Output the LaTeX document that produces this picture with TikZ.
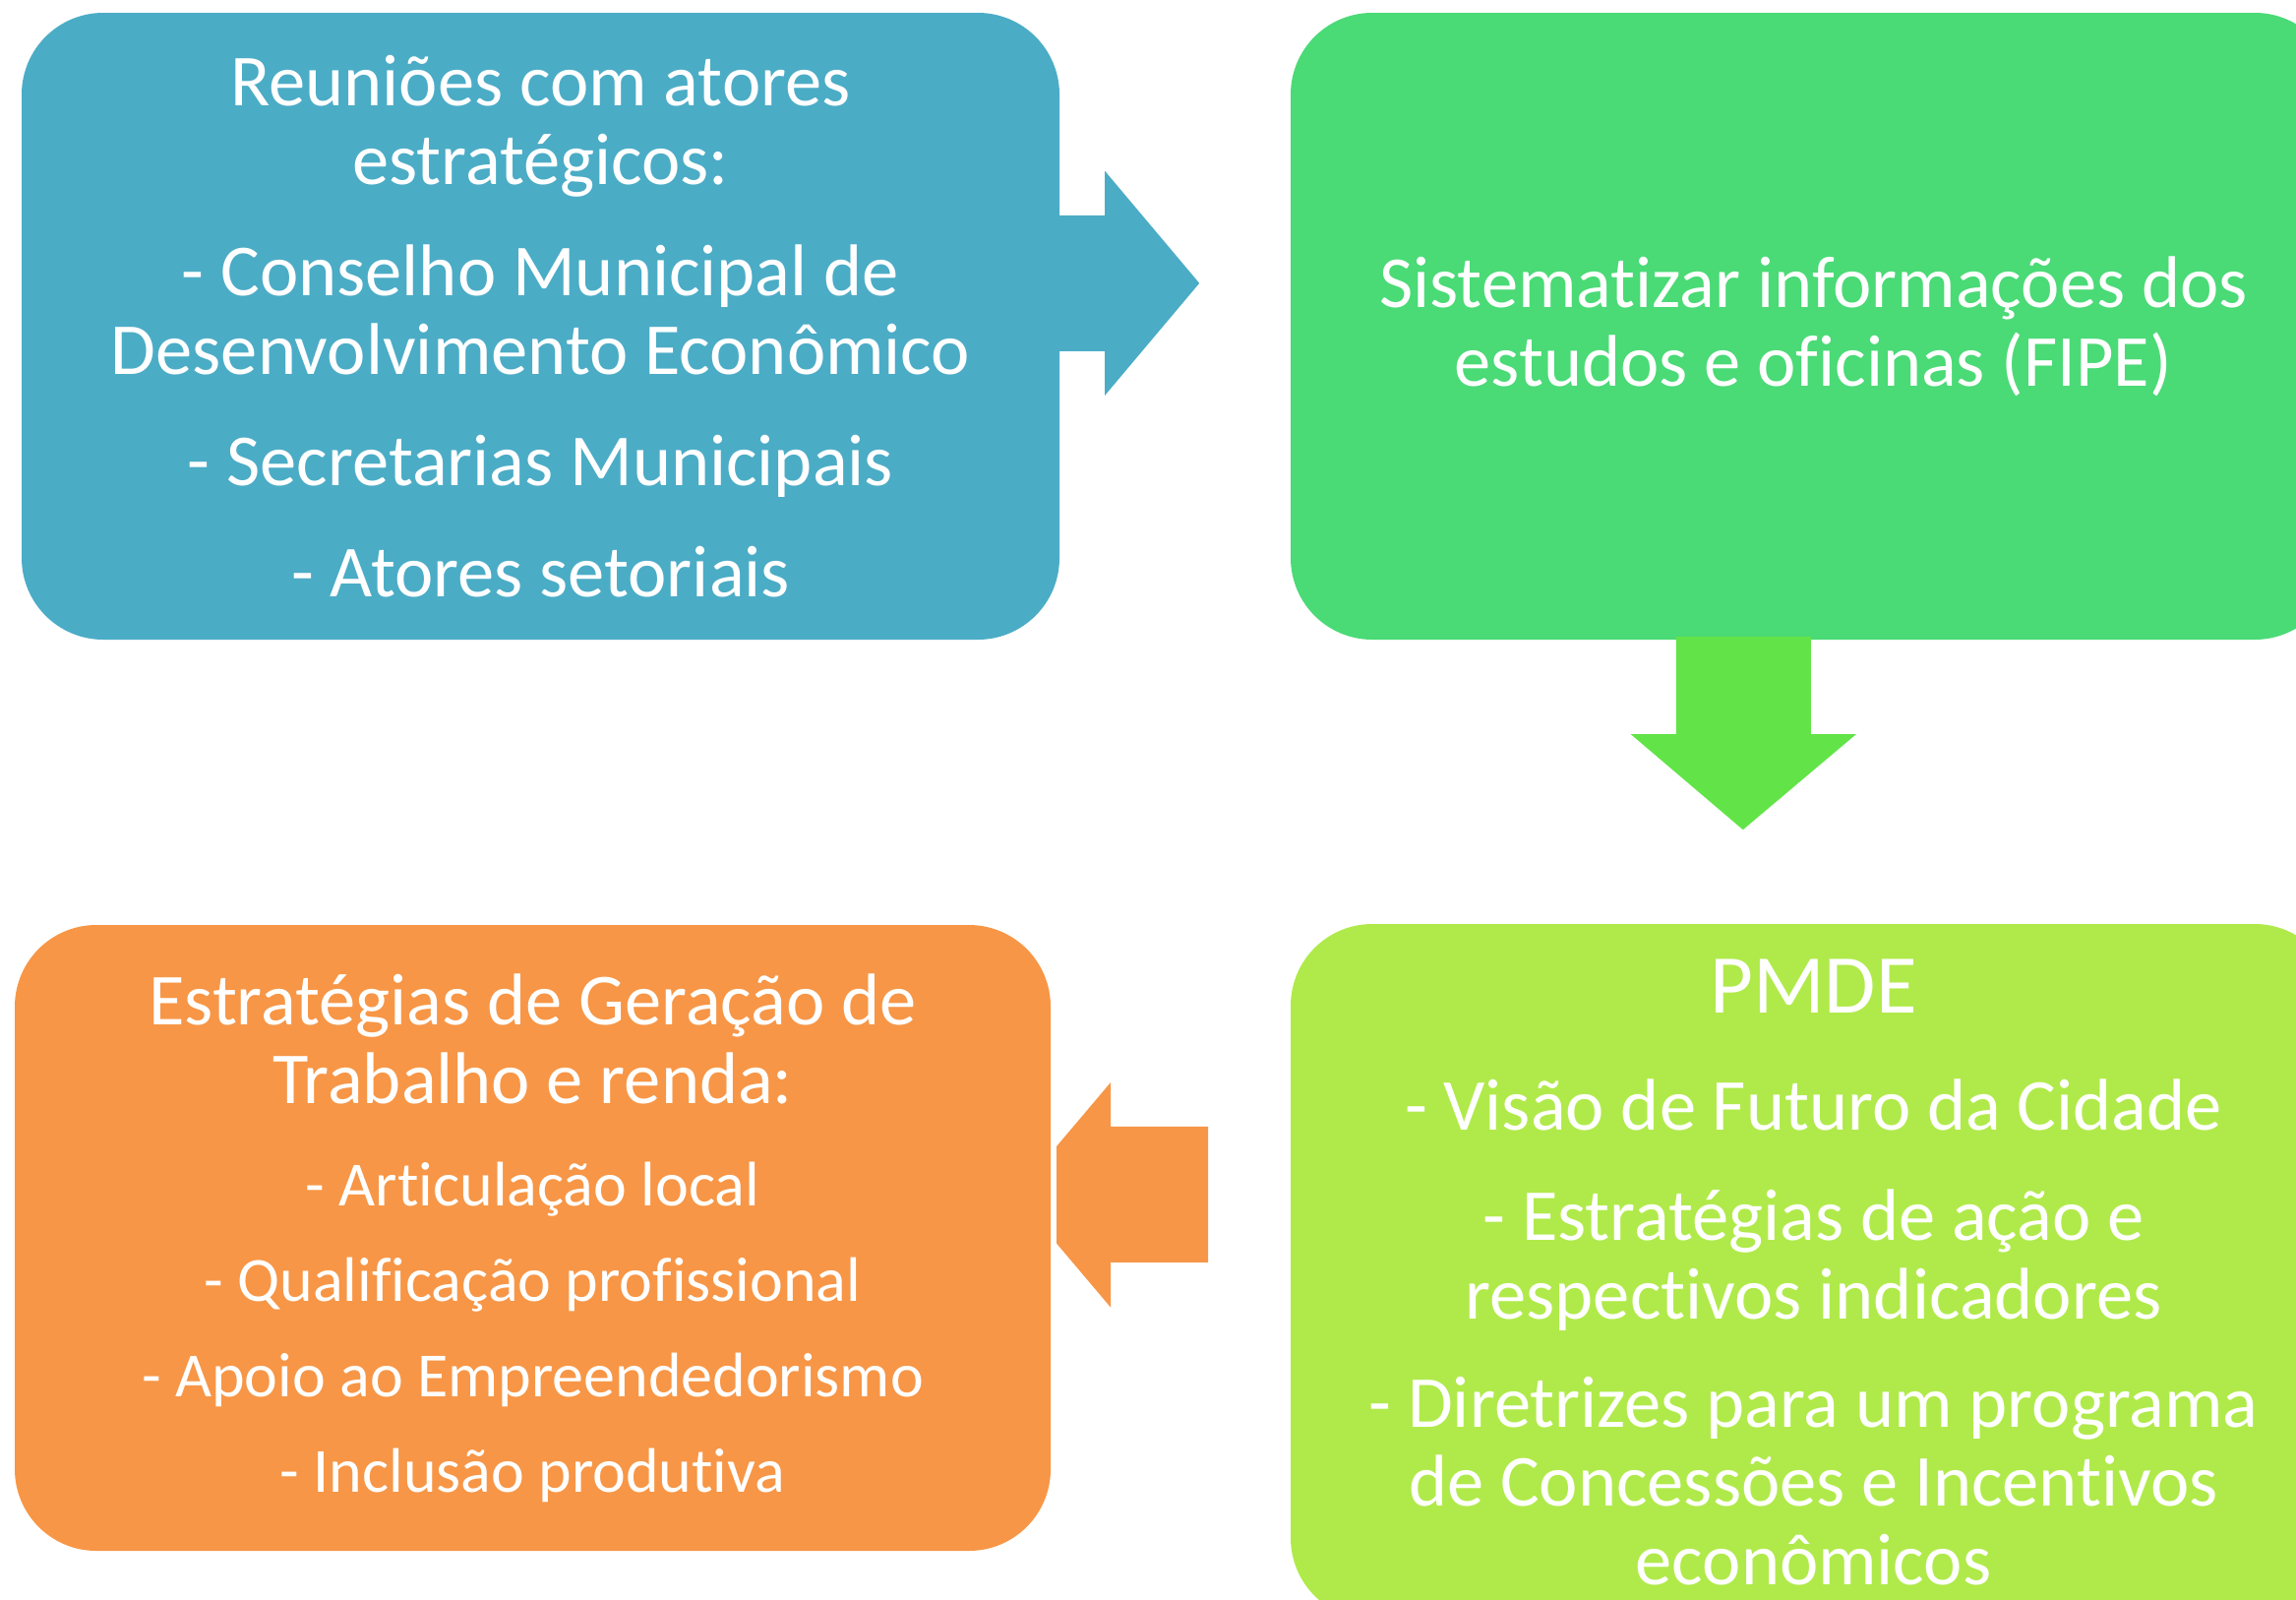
\documentclass[tikz,border=0pt]{standalone}
\usepackage{fontspec}
\setmainfont{Carlito}[Ligatures=NoCommon]
\usetikzlibrary{positioning}
\definecolor{meetblue}{HTML}{4BACC6}
\definecolor{fipegreen}{HTML}{4ADA76}
\definecolor{arrowgreen}{HTML}{62E448}
\definecolor{pmdelime}{HTML}{B0EA4A}
\definecolor{rendaorange}{HTML}{F79646}
\newcommand{\itemfont}{\fontsize{64}{80}\selectfont}
\newcommand{\titlefont}{\fontsize{85}{80}\selectfont}
\tikzset{
  box/.style={rounded corners=83pt, text=white, align=center, inner sep=0pt,
    font=\fontsize{74.5}{80}\selectfont},
}
\begin{document}
\begin{tikzpicture}[x=1pt, y=-1pt]
\path[use as bounding box, clip] (0,0) rectangle (2334,1625);
% the four boxes
\node (meet)[box, fill=meetblue, minimum width=1055pt, minimum height=637pt] at (549.5, 331.5)
  {Reuniões com atores\\estratégicos:\\[33pt]- Conselho Municipal de\\Desenvolvimento Econômico\\[33pt]- Secretarias Municipais\\[33pt]- Atores setoriais};
\node (fipe)[box, fill=fipegreen, minimum width=1063pt, minimum height=637pt] at (1843.5, 331.5)
  {Sistematizar informações dos\\estudos e oficinas (FIPE)};
\node (pmde)[box, fill=pmdelime, minimum width=1063pt, minimum height=707pt] at (1843.5, 1292.5)
  {\titlefont PMDE\\[39pt]- Visão de Futuro da Cidade\\[32pt]- Estratégias de ação e\\respectivos indicadores\\[30pt]- Diretrizes para um programa\\de Concessões e Incentivos\\econômicos};
\node (renda)[box, fill=rendaorange, minimum width=1053pt, minimum height=636pt] at (541.5, 1258)
  {Estratégias de Geração de\\Trabalho e renda:\\[24pt]\itemfont - Articulação local\\[17pt]\itemfont - Qualificação profissional\\[17pt]\itemfont - Apoio ao Empreendedorismo\\[17pt]\itemfont - Inclusão produtiva};
% block arrows
\fill[meetblue] (meet.north east) ++(0,206) -- ++(46,0) -- ++(0,-45) -- ++(96,114) -- ++(-96,114) -- ++(0,-45) -- ++(-46,0) -- cycle;
\fill[arrowgreen] (fipe.south west) ++(392,-3) -- ++(137,0) -- ++(0,99) -- ++(46,0) -- ++(-115,97) -- ++(-114,-97) -- ++(46,0) -- cycle;
\fill[rendaorange] (renda.north east) ++(160,205) -- ++(-99,0) -- ++(0,-45) -- ++(-55,65) -- ++(0,99) -- ++(55,65) -- ++(0,-46) -- ++(99,0) -- cycle;
\end{tikzpicture}
\end{document}
